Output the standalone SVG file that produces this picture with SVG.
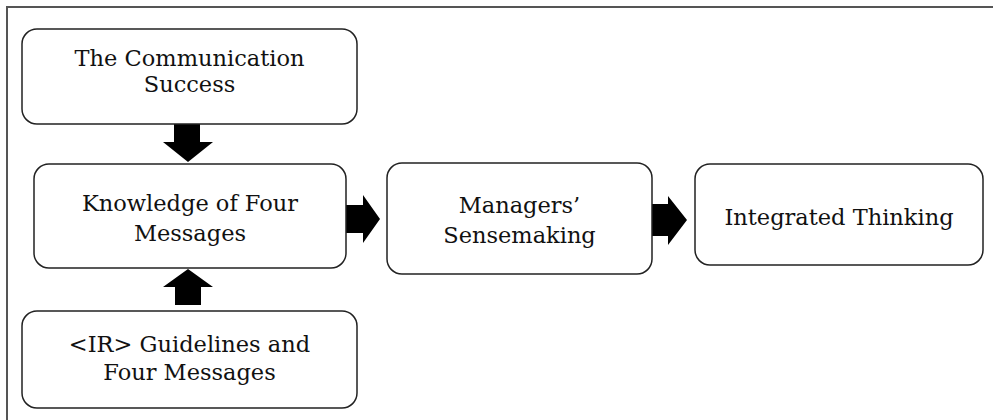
<svg xmlns="http://www.w3.org/2000/svg" width="993" height="420" viewBox="0 0 993 420">
  <style>
    .box { fill: #ffffff; stroke: #222222; stroke-width: 1.5; }
    .lbl { font-family: "DejaVu Serif", "Liberation Serif", serif; font-size: 22.5px; fill: #111111; text-anchor: middle; }
    .arrow { fill: #000000; stroke: none; }
    .frame { fill: none; stroke: #555555; stroke-width: 2; }
  </style>
  <rect width="993" height="420" fill="#ffffff"/>

  <!-- open frame: top and left edges only -->
  <path class="frame" d="M7,420 V7 H993"/>

  <g id="connectors">
    <!-- down: Communication Success -> Knowledge -->
    <polygon class="arrow" points="174,124 200,124 200,142 213,142 188,162 163,142 174,142"/>
    <!-- up: IR Guidelines -> Knowledge -->
    <polygon class="arrow" points="175,305 201,305 201,287 213,287 188,269 163,287 175,287"/>
    <!-- right: Knowledge -> Managers' Sensemaking -->
    <polygon class="arrow" points="346,205 363,205 363,195 380,219 363,243 363,233 346,233"/>
    <!-- right: Managers' Sensemaking -> Integrated Thinking -->
    <polygon class="arrow" points="652,204 668,204 668,196 687,220 668,245 668,236 652,236"/>
  </g>

  <g id="node-communication-success">
    <rect class="box" x="22" y="29" width="335" height="95" rx="15"/>
    <text class="lbl" x="189.5" y="66">The Communication</text>
    <text class="lbl" x="189.5" y="92">Success</text>
  </g>

  <g id="node-knowledge">
    <rect class="box" x="34" y="164" width="312" height="104" rx="15"/>
    <text class="lbl" x="190" y="211">Knowledge of Four</text>
    <text class="lbl" x="190" y="241">Messages</text>
  </g>

  <g id="node-ir-guidelines">
    <rect class="box" x="22" y="311" width="335" height="97" rx="15"/>
    <text class="lbl" x="189.5" y="352">&lt;IR&gt; Guidelines and</text>
    <text class="lbl" x="189.5" y="380">Four Messages</text>
  </g>

  <g id="node-managers-sensemaking">
    <rect class="box" x="387" y="163" width="265" height="111" rx="15"/>
    <text class="lbl" x="519.5" y="213">Managers’</text>
    <text class="lbl" x="519.5" y="243">Sensemaking</text>
  </g>

  <g id="node-integrated-thinking">
    <rect class="box" x="695" y="164" width="288" height="101" rx="15"/>
    <text class="lbl" x="839" y="225">Integrated Thinking</text>
  </g>
</svg>
